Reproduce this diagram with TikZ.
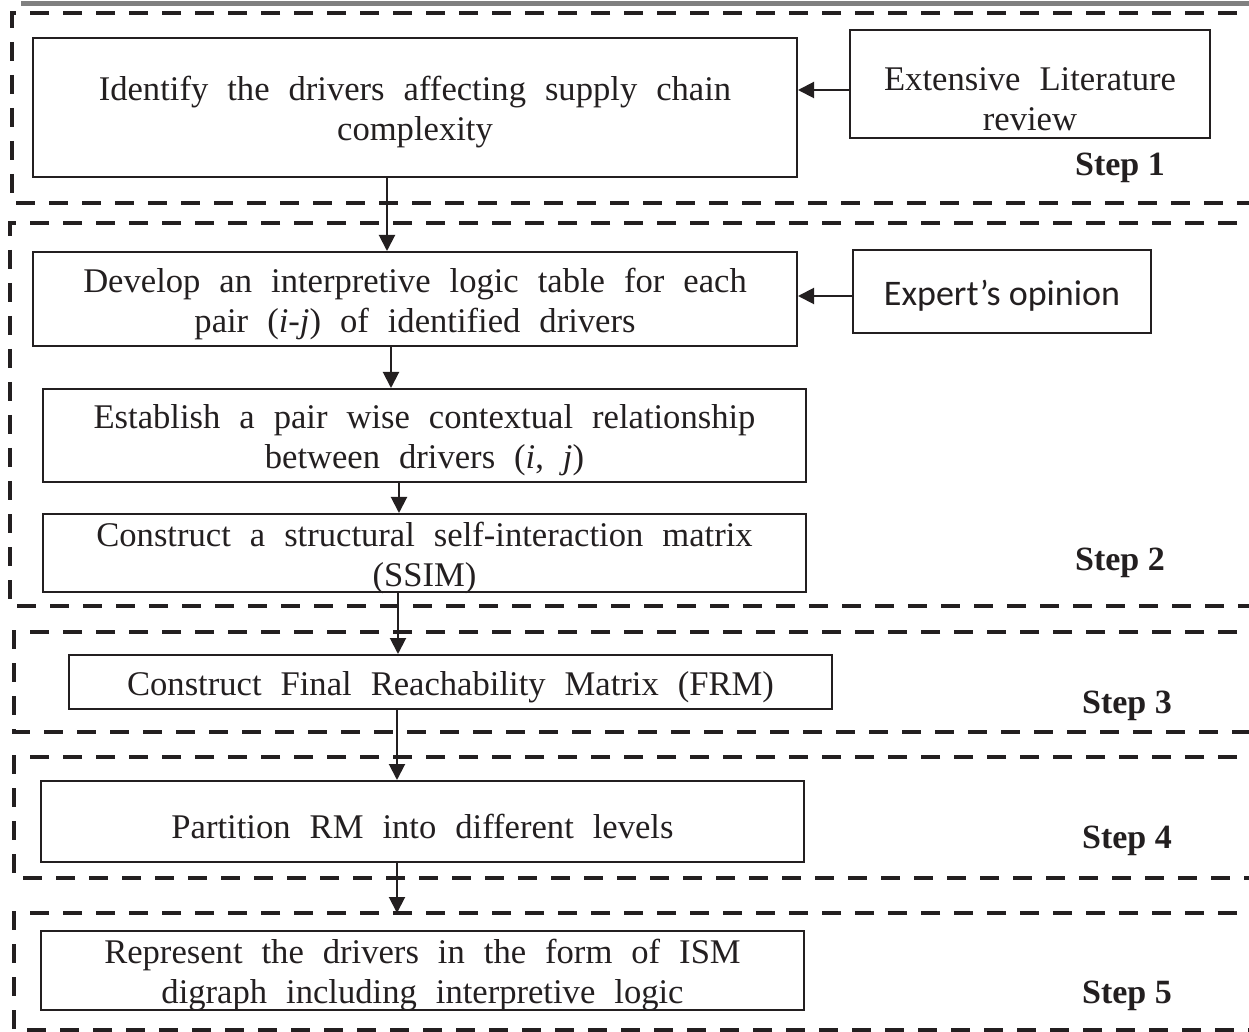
\documentclass[tikz,border=0pt]{standalone}
\usepackage{fontspec}
\setmainfont{Liberation Serif}
\newfontfamily\expertfont{Carlito}
\usetikzlibrary{arrows.meta}
\definecolor{ink}{RGB}{35,31,32}
\newcommand\widespaces{\spaceskip=9.5pt\relax}
\newcommand\lift{\rule{0pt}{17pt}}
\tikzset{
  stage/.style={draw=ink, line width=1pt, inner sep=0pt, align=center,
    text=ink, font=\fontsize{17.3}{20}\selectfont\widespaces},
  frame/.style={draw=ink, line width=2.2pt, dash pattern=on 9.5pt off 7pt},
  flow/.style={draw=ink, line width=1pt, -{Triangle[length=8pt,width=8pt]}},
  steplabel/.style={text=ink, font=\fontsize{17}{20}\selectfont\bfseries}
}

\begin{document}
\begin{tikzpicture}[x=0.5pt, y=-0.5pt]
  \useasboundingbox (0,0) rectangle (1249,1032);
  \clip (0,0) rectangle (1249,1032);

  % Page rule
  \fill[gray] (21,1) rectangle (1249,6);

  % Step frames
  \coordinate (top1) at (12,13);
  \coordinate (top2) at (10,223);
  \coordinate (top3) at (14,632);
  \coordinate (top4) at (14,757);
  \coordinate (top5) at (14,913);
  \draw[frame] (1270,13) -- (top1) -- (12,203) -- (1270,203);
  \draw[frame] (1270,223) -- (top2) -- (10,606) -- (1270,606);
  \draw[frame] (1270,632) -- (top3) -- (14,732) -- (1270,732);
  \draw[frame] (1270,757) -- (top4) -- (14,878) -- (1270,878);
  \draw[frame] (1270,913) -- (top5) -- (14,1030) -- (1270,1030);

  % Stages
  \node (identify) at (415,107.5) [stage, minimum width=382pt, minimum height=69.5pt]
    {\lift Identify the drivers affecting supply chain\\complexity};
  \node (litreview) at (1030,84) [stage, minimum width=180pt, minimum height=54pt]
    {\rule{0pt}{27pt}Extensive Literature\\review};
  \node (develop) at (415,299) [stage, minimum width=382pt, minimum height=47pt]
    {\lift Develop an interpretive logic table for each\\pair (\textit{i}-\textit{j}) of identified drivers};
  \node (expert) at (1002,291.5) [stage, minimum width=149pt, minimum height=41.5pt,
    font=\expertfont\fontsize{18}{20}\selectfont] {\lift Expert’s opinion};
  \node (establish) at (424.5,435.5) [stage, minimum width=381.5pt, minimum height=46.5pt]
    {\lift Establish a pair wise contextual relationship\\between drivers (\textit{i}, \textit{j})};
  \node (ssim) at (424.5,553) [stage, minimum width=381.5pt, minimum height=39pt, inner ysep=-4pt]
    {\lift Construct a structural self-interaction matrix\\(SSIM)};
  \node (frm) at (450.5,682) [stage, minimum width=381.5pt, minimum height=27pt]
    {\lift Construct Final Reachability Matrix (FRM)};
  \node (partition) at (422.5,821.5) [stage, minimum width=381.5pt, minimum height=40.5pt]
    {\lift Partition RM into different levels};
  \node (represent) at (422.5,970.5) [stage, minimum width=381.5pt, minimum height=39.5pt, inner ysep=-4pt]
    {\lift Represent the drivers in the form of ISM\\digraph including interpretive logic};

  % Step labels
  \node (s1) at (1120,168) [steplabel] {Step 1};
  \node (s2) at (1120,563) [steplabel] {Step 2};
  \node (s3) at (1127,706) [steplabel] {Step 3};
  \node (s4) at (1127,841) [steplabel] {Step 4};
  \node (s5) at (1127,996) [steplabel] {Step 5};

  % Inputs
  \draw[flow] ([yshift=-3pt]litreview.west) -- ([yshift=-3pt]litreview.west -| identify.east);
  \draw[flow] ([yshift=-2.25pt]expert.west) -- ([yshift=-2.25pt]expert.west -| develop.east);

  % Main flow
  \draw[flow] ([xshift=-14pt]identify.south) -- ([xshift=-14pt]develop.north);
  \draw[flow] ([xshift=-12pt]develop.south) -- ([xshift=-12pt]develop.south |- establish.north);
  \draw[flow] ([xshift=-12.75pt]establish.south) -- ([xshift=-12.75pt]establish.south |- ssim.north);
  \draw[flow] ([xshift=-13.25pt]ssim.south) -- ([xshift=-13.25pt]ssim.south |- frm.north);
  \draw[flow] ([xshift=-26.75pt]frm.south) -- ([xshift=-26.75pt]frm.south |- partition.north);
  \draw[flow] ([xshift=-12.75pt]partition.south) -- ([xshift=-12.75pt]partition.south |- top5);
\end{tikzpicture}
\end{document}
